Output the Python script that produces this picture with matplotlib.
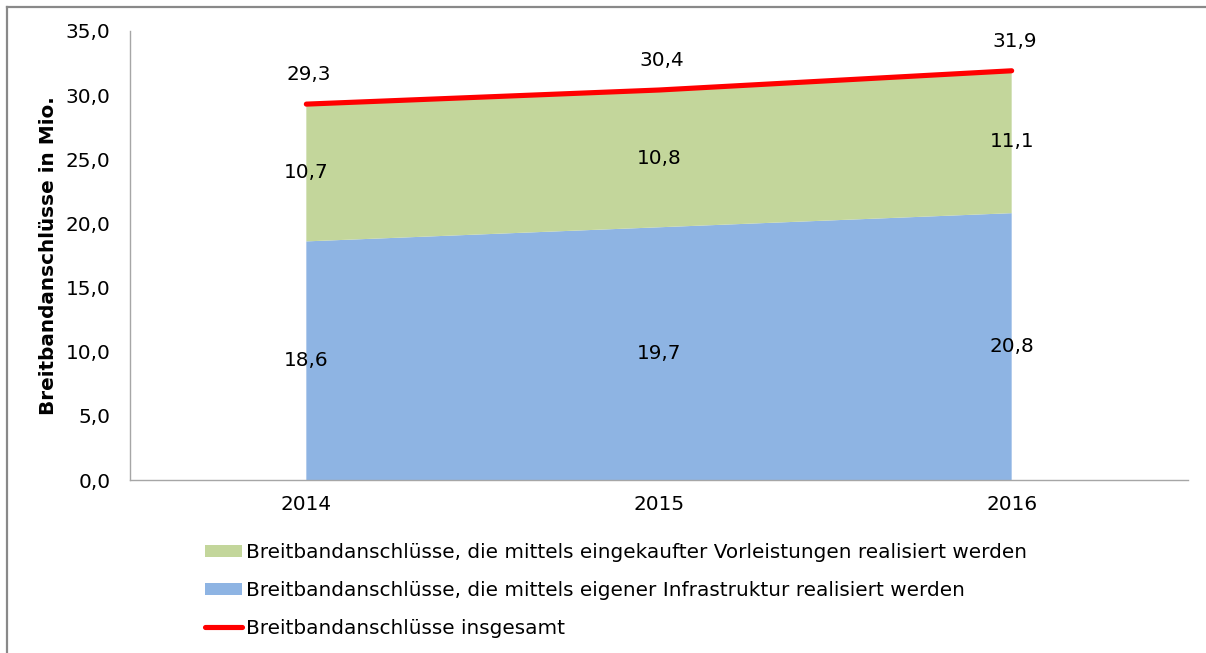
import matplotlib
matplotlib.use("Agg")
import matplotlib.pyplot as plt
from matplotlib.patches import Patch
from matplotlib.lines import Line2D
from matplotlib.ticker import FuncFormatter, MultipleLocator

plt.rcParams['font.family'] = ['DejaVu Sans']

years = ["2014", "2015", "2016"]
eigene = [18.6, 19.7, 20.8]
eingekauft = [10.7, 10.8, 11.1]
insgesamt = [29.3, 30.4, 31.9]

label_green = "Breitbandanschlüsse, die mittels eingekaufter Vorleistungen realisiert werden"
label_blue = "Breitbandanschlüsse, die mittels eigener Infrastruktur realisiert werden"
label_red = "Breitbandanschlüsse insgesamt"
ylabel = "Breitbandanschlüsse in Mio."

C_GREEN = "#C3D69B"
C_BLUE = "#8EB4E3"
C_RED = "#FF0000"
FS = 14.4

W, H = 1206, 653
fig = plt.figure(figsize=(W / 100, H / 100), dpi=100)
ax = fig.add_axes([130 / W, 1 - 480 / H, (1188 - 130) / W, (480 - 31) / H])

x = list(range(len(years)))
ax.stackplot(x, eigene, eingekauft, colors=[C_BLUE, C_GREEN], zorder=2)
ax.plot(x, insgesamt, color=C_RED, lw=3.7, solid_capstyle="round", zorder=3)

ax.set_xlim(-0.5, len(years) - 0.5)
ax.set_ylim(0, 35)
ax.yaxis.set_major_locator(MultipleLocator(5))
ax.yaxis.set_major_formatter(FuncFormatter(lambda v, p: f"{v:.1f}".replace(".", ",")))
ax.set_xticks(x)
ax.set_xticklabels(years)
ax.tick_params(axis="both", length=0, labelsize=FS, colors="black")
ax.tick_params(axis="y", pad=14)
ax.tick_params(axis="x", pad=11)

for s in ["top", "right"]:
    ax.spines[s].set_visible(False)
for s in ["left", "bottom"]:
    ax.spines[s].set_color("#A6A6A6")
    ax.spines[s].set_linewidth(1.0)

ax.set_ylabel(ylabel, fontsize=FS, fontweight="bold")
ax.yaxis.set_label_coords(-0.068, 0.5)

def fmt(v):
    return f"{v:.1f}".replace(".", ",")

for i in x:
    ax.text(i, eigene[i] / 2, fmt(eigene[i]), ha="center", va="center", fontsize=FS, zorder=4)
    ax.text(i, eigene[i] + eingekauft[i] / 2, fmt(eingekauft[i]), ha="center", va="center", fontsize=FS, zorder=4)
    ax.annotate(fmt(insgesamt[i]), (i, insgesamt[i]), xytext=(2, 21), textcoords="offset points",
                ha="center", va="center", fontsize=FS, zorder=4)

handles = [Patch(facecolor=C_GREEN, edgecolor="none"),
           Patch(facecolor=C_BLUE, edgecolor="none"),
           Line2D([0], [0], color=C_RED, lw=3.7, solid_capstyle="round")]
fig.legend(handles, [label_green, label_blue, label_red], loc="upper left",
           bbox_to_anchor=(205 / W, 1 - 543 / H), frameon=False, fontsize=FS,
           handlelength=1.84, handleheight=0.55, handletextpad=0.2, labelspacing=0.95,
           borderpad=0, borderaxespad=0)

# outer border (left and top edges visible in the frame)
fig.add_artist(Line2D([7 / W, 7 / W], [0, 1 - 7 / H], transform=fig.transFigure, color="#898989", lw=1.6))
fig.add_artist(Line2D([7 / W, 1], [1 - 7 / H, 1 - 7 / H], transform=fig.transFigure, color="#898989", lw=1.6))

fig.savefig("out.png", dpi=100)
